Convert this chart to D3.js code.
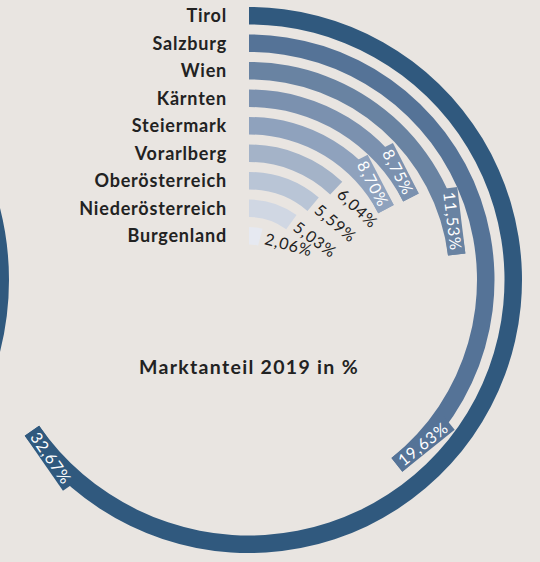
<!DOCTYPE html>
<html>
<head>
<meta charset="utf-8">
<script src="https://cdn.jsdelivr.net/npm/d3@7"></script>
<style>
  body { margin: 0; background: #e9e5e1; }
  svg { display: block; font-family: Lato, "Open Sans", sans-serif; }
  .cat { font-size: 18px; font-weight: 700; fill: #222; letter-spacing: 0.8px; }
  .val { font-size: 16px; font-weight: 400; letter-spacing: 0.9px; }
  .title { font-size: 19.5px; font-weight: 700; fill: #222; letter-spacing: 1.3px; }
</style>
</head>
<body>
<div id="chart"></div>
<script>
// Marktanteil 2019 in % by Bundesland
var categories = ["Tirol", "Salzburg", "Wien", "Kärnten", "Steiermark", "Vorarlberg", "Oberösterreich", "Niederösterreich", "Burgenland"];
var values = [32.67, 19.63, 11.53, 8.75, 8.70, 6.04, 5.59, 5.03, 2.06];
var colors = ["#30597e", "#557397", "#6983a2", "#7b91af", "#8fa2bd", "#a4b3c8", "#b9c5d6", "#d0d7e3", "#e6e9f1"];
var title = "Marktanteil 2019 in %";

var width = 540,
    height = 562,
    cx = 249,
    cy = 280;

var data = categories.map(function(c, i) {
    return { label: c, value: values[i], color: colors[i] };
});

var svg = d3.select('#chart')
    .append('svg')
    .attr('width', width)
    .attr('height', height);

svg.append('rect')
    .attr('width', width)
    .attr('height', height)
    .attr('fill', '#e9e5e1');

// ring position, measured from the top of the outer ring
var y = d3.scaleBand()
    .domain(categories)
    .range([7, 244.5])
    .paddingInner(10 / 27.5)
    .paddingOuter(0);

var angle = d3.scaleLinear()
    .domain([0, 50])
    .range([0, 2 * Math.PI]);

var fmt = d3.formatLocale({ decimal: ",", thousands: ".", grouping: [3], currency: ["", ""] }).format(".2f");

var arc = d3.arc()
    .innerRadius(function(d) { return cy - y(d.label) - y.bandwidth(); })
    .outerRadius(function(d) { return cy - y(d.label); })
    .startAngle(0)
    .endAngle(function(d) { return angle(d.value); });

// piece of the neighbouring chart at the left edge
svg.append('path')
    .attr('transform', 'translate(-283,' + cy + ')')
    .attr('d', d3.arc()({ innerRadius: 274, outerRadius: 292, startAngle: Math.PI / 3, endAngle: 2 * Math.PI / 3 }))
    .attr('fill', colors[0]);

var g = svg.append('g')
    .attr('transform', 'translate(' + cx + ',' + cy + ')');

g.selectAll('.ring')
    .data(data)
    .enter()
    .append('path')
    .attr('class', 'ring')
    .attr('d', arc)
    .attr('fill', function(d) { return d.color; });

// category labels
svg.selectAll('.cat')
    .data(data)
    .enter()
    .append('text')
    .attr('class', 'cat')
    .attr('x', 227)
    .attr('y', function(d) { return y(d.label) + y.bandwidth() / 2; })
    .attr('dy', '0.36em')
    .attr('text-anchor', 'end')
    .text(function(d) { return d.label; });

// value labels
var lab = g.selectAll('.lab')
    .data(data)
    .enter()
    .append('g')
    .attr('class', 'lab')
    .attr('transform', function(d) {
        var deg = angle(d.value) * 180 / Math.PI;
        var r = cy - y(d.label) - y.bandwidth() / 2;
        var flip = deg > 90 && deg < 270;
        return 'rotate(' + deg + ') translate(0,' + (-r) + ')' + (flip ? ' rotate(180)' : '');
    });

lab.each(function(d) {
    var sel = d3.select(this);
    var deg = angle(d.value) * 180 / Math.PI;
    var flip = deg > 90 && deg < 270;
    var inside = d.value >= 8;
    var t = sel.append('text')
        .attr('class', 'val')
        .attr('dy', '0.36em')
        .attr('fill', inside ? '#fff' : '#222')
        .text(fmt(d.value) + '%');
    var w = t.node().getComputedTextLength();
    if (inside) {
        var pad = 4;
        t.attr('x', flip ? pad : -pad)
            .attr('text-anchor', flip ? 'start' : 'end');
        sel.insert('rect', 'text')
            .attr('x', flip ? 0 : -(w + 2 * pad))
            .attr('y', -y.bandwidth() / 2)
            .attr('width', w + 2 * pad)
            .attr('height', y.bandwidth())
            .attr('fill', d.color);
    } else {
        t.attr('x', 5).attr('text-anchor', 'start');
    }
});

svg.append('text')
    .attr('class', 'title')
    .attr('x', cx)
    .attr('y', 374)
    .attr('text-anchor', 'middle')
    .text(title);
</script>
</body>
</html>
